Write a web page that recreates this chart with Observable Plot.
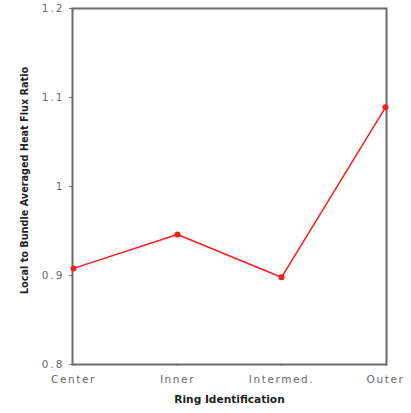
<!DOCTYPE html>
<html>
<head>
<meta charset="utf-8">
<script src="https://cdn.jsdelivr.net/npm/d3@7"></script>
<script src="https://cdn.jsdelivr.net/npm/@observablehq/plot@0.6"></script>
<style>
  html, body { margin: 0; padding: 0; background: #fff; }
  #chart svg { display: block; }
  #chart svg g[aria-label="y-axis tick label"] text { letter-spacing: 2px; }
  #chart svg g[aria-label="x-axis tick label"] text { letter-spacing: 1.6px; }
</style>
</head>
<body>
<div id="chart"></div>
<script>
// Ring positions across the bundle and the local-to-average heat flux ratio
const rings = ["Center", "Inner", "Intermed.", "Outer"];
const fluxRatio = [0.908, 0.946, 0.898, 1.089];
const yTicks = [0.8, 0.9, 1, 1.1, 1.2];
const yTickLabels = ["0.8", "0.9", "1", "1.1", "1.2"];

const data = rings.map((ring, i) => ({ring, ratio: fluxRatio[i]}));

const tickFont = "DejaVu Sans, sans-serif";
const labelFont = "DejaVu Sans, sans-serif";

const chart = Plot.plot({
  width: 411,
  height: 413,
  marginLeft: 72,
  marginRight: 25,
  marginTop: 8,
  marginBottom: 49,
  style: {background: "#fff"},
  x: {type: "point", domain: rings, padding: 0},
  y: {domain: [0.8, 1.2]},
  marks: [
    Plot.axisY({
      ticks: yTicks,
      tickFormat: (d) => yTickLabels[yTicks.indexOf(d)],
      tickSize: 3,
      tickPadding: 5,
      stroke: "#777",
      fill: "#6a6a6a",
      fontSize: 10.5,
      fontFamily: tickFont,
      label: null
    }),
    Plot.axisX({
      tickSize: 2,
      tickPadding: 9,
      stroke: "#777",
      fill: "#6a6a6a",
      fontSize: 10.5,
      fontFamily: tickFont,
      label: null
    }),
    Plot.frame({stroke: "#6a6a6a", strokeWidth: 2}),
    Plot.line(data, {x: "ring", y: "ratio", stroke: "#ff1a1a", strokeWidth: 1.5}),
    Plot.dot(data, {x: "ring", y: "ratio", r: 3, fill: "#ff1a1a"}),
    Plot.text(["Ring Identification"], {
      frameAnchor: "bottom",
      dy: 38,
      fontWeight: "bold",
      fontSize: 10.6,
      fontFamily: labelFont,
      fill: "#222"
    }),
    Plot.text(["Local to Bundle Averaged Heat Flux Ratio"], {
      frameAnchor: "left",
      textAnchor: "middle",
      dx: -48,
      dy: -6,
      rotate: -90,
      fontWeight: "bold",
      fontSize: 9.7,
      fontFamily: labelFont,
      fill: "#222"
    })
  ]
});

document.getElementById("chart").appendChild(chart);
</script>
</body>
</html>
